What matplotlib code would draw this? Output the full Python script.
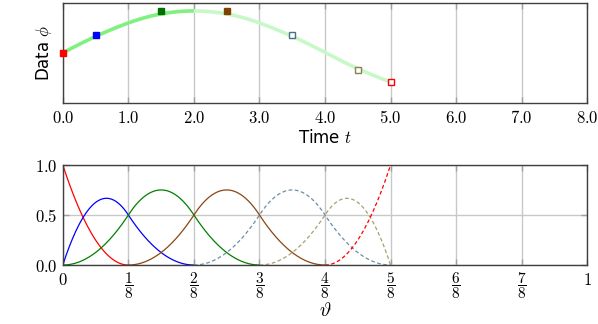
import matplotlib.pyplot as plt
import numpy as np

plt.rcParams['mathtext.fontset'] = 'cm'
plt.rcParams['font.family'] = 'DejaVu Sans'

# quadratic B-spline, knots in units of 1/8
knots = [0, 0, 0, 1, 2, 3, 4, 5, 5, 5]
degree = 2
# control points (Greville abscissae)
ctrl_t = [0.0, 0.5, 1.5, 2.5, 3.5, 4.5, 5.0]
ctrl_y = [0.50, 0.68, 0.92, 0.92, 0.68, 0.33, 0.21]
colors = ['#ff0000', '#0000ff', '#008000', '#8b4513', '#6a8fa8', '#a8a070', '#ff0000']
styles = ['-', '-', '-', '-', '--', '--', '--']
filled = [True, True, True, True, False, False, False]
marker_colors = ['#ff0000', '#0000ff', '#007000', '#804000', '#4a6f88', '#8a8050', '#ff0000']
top_ticks = [0, 1, 2, 3, 4, 5, 6, 7, 8]
bot_ticks = [0, 1, 2, 3, 4, 5, 6, 7, 8]
bot_labels = ['$0$'] + [r'$\dfrac{%d}{8}$' % i for i in range(1, 8)] + ['$1$']


def basis(i, k, t):
    # Cox-de Boor recursion
    if k == 0:
        last = knots[i + 1] == knots[-1] and knots[i] < knots[i + 1]
        return np.where((t >= knots[i]) & ((t < knots[i + 1]) | (last & (t == knots[i + 1]))), 1.0, 0.0)
    out = np.zeros_like(t)
    d1 = knots[i + k] - knots[i]
    d2 = knots[i + k + 1] - knots[i + 1]
    if d1 > 0:
        out += (t - knots[i]) / d1 * basis(i, k - 1, t)
    if d2 > 0:
        out += (knots[i + k + 1] - t) / d2 * basis(i + 1, k - 1, t)
    return out


t = np.linspace(0, 5, 501)
B = [basis(i, degree, t) for i in range(len(ctrl_y))]
curve = sum(c * b for c, b in zip(ctrl_y, B))

fig = plt.figure(figsize=(5.98, 3.24), dpi=100)
ax1 = fig.add_axes([0.105, 0.682, 0.877, 0.309])
ax2 = fig.add_axes([0.105, 0.182, 0.877, 0.309])

grid_c = '#c8c8c8'
spine_c = '#404040'

# top: spline curve + control points
half = t <= 2.0
ax1.plot(t[t >= 2.0], curve[t >= 2.0], color='#c8f8c8', lw=2.6, solid_capstyle='butt', zorder=2)
ax1.plot(t[half], curve[half], color='#80f080', lw=2.6, solid_capstyle='butt', zorder=2)
for x, y, mc, f in zip(ctrl_t, ctrl_y, marker_colors, filled):
    ax1.plot(x, y, 's', ms=5, mfc=mc if f else 'white',
             mec=mc, mew=1.0, zorder=3, clip_on=False)
ax1.set_xlim(0, 8)
ax1.set_ylim(0, 1)
ax1.set_xticks(top_ticks)
ax1.set_xticklabels(['$%d.0$' % v for v in top_ticks], fontsize=12)
ax1.set_yticks([])
ax1.grid(True, axis='x', color=grid_c, lw=1)
ax1.set_xlabel('Time $t$', fontsize=12, labelpad=2)
ax1.set_ylabel(r'Data $\phi$', fontsize=12, labelpad=6)

# bottom: basis functions, drawn on their support only
theta = t / 8
for i, (b, c, ls) in enumerate(zip(B, colors, styles)):
    sup = (t >= knots[i]) & (t <= knots[i + degree + 1])
    ax2.plot(theta[sup], b[sup], color=c, ls=ls, lw=0.9,
             dashes=(3, 2) if ls == '--' else (None, None), zorder=2)
ax2.set_xlim(0, 1)
ax2.set_ylim(0, 1)
ax2.set_xticks([v / 8 for v in bot_ticks])
ax2.set_xticklabels(bot_labels, fontsize=11)
ax2.set_yticks([0, 0.5, 1.0])
ax2.set_yticklabels(['$0.0$', '$0.5$', '$1.0$'], fontsize=12)
ax2.grid(True, color=grid_c, lw=1)
ax2.set_xlabel(r'$\vartheta$', fontsize=14, labelpad=0)

for ax in (ax1, ax2):
    ax.set_axisbelow(True)
    for s in ax.spines.values():
        s.set_color(spine_c)
        s.set_linewidth(1.0)
    ax.tick_params(direction='in', length=4, width=1, color='#a0a0a0',
                   top=True, right=True, pad=4)
for lab in ax2.get_xticklabels()[[0, -1][0]:1] + ax2.get_xticklabels()[-1:]:
    lab.set_fontsize(12)

fig.savefig('out.png', dpi=100)
